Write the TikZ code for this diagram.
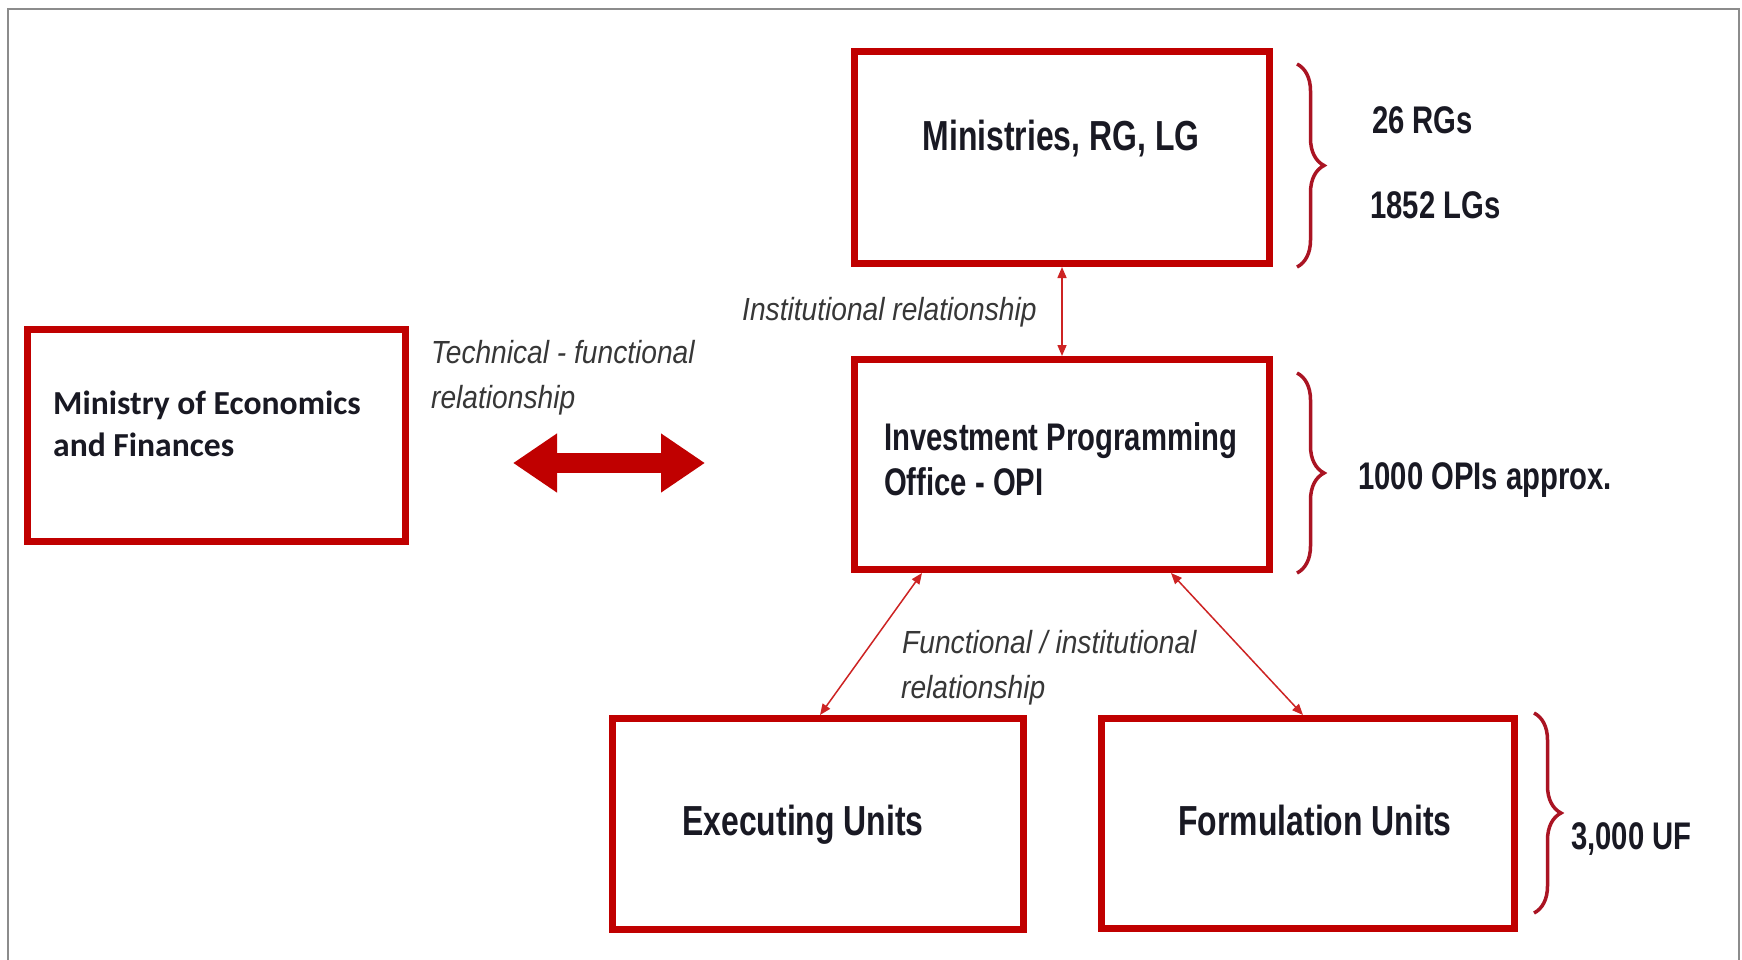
\documentclass[tikz,border=0pt]{standalone}
\usepackage{fontspec}
\setmainfont{Liberation Sans}
\newfontfamily\titlefont[FakeStretch=0.76]{Liberation Sans}
\newfontfamily\relfont[FakeStretch=0.88]{Liberation Sans}
\newfontfamily\calfont{Carlito}
\usepackage{xcolor}
\usetikzlibrary{arrows.meta,decorations.pathreplacing,calc}
\definecolor{boxred}{RGB}{192,0,0}
\definecolor{relred}{RGB}{205,35,35}
\definecolor{bracered}{RGB}{170,20,35}
\definecolor{txtdark}{RGB}{25,25,35}
\definecolor{relgray}{RGB}{55,55,55}
\definecolor{framegray}{RGB}{140,140,140}

\begin{document}
\begin{tikzpicture}[x=1pt,y=-1pt,
  box/.style={draw=boxred,line width=7pt,rectangle,inner sep=0pt},
  title/.style={inner sep=0pt,text=txtdark,font=\titlefont\bfseries\fontsize{42}{48}\selectfont},
  count/.style={inner sep=0pt,anchor=base west,text=txtdark,font=\titlefont\bfseries\fontsize{38.5}{44}\selectfont},
  reltext/.style={inner sep=0pt,anchor=base west,text=relgray,font=\relfont\itshape\fontsize{32}{36}\selectfont},
  rel/.style={draw=relred,line width=1.5pt,{Triangle[length=11pt,width=9pt]}-{Triangle[length=11pt,width=9pt]}},
  fatarrow/.style={draw=boxred,line width=20pt,{Triangle[length=44pt,width=56pt]}-{Triangle[length=44pt,width=56pt]}},
  curly/.style={draw=bracered,line width=3.5pt,decorate,decoration={brace,amplitude=27pt}}]
\useasboundingbox (0,0) rectangle (1742,959);
\fill[white] (0,0) rectangle (1742,959);
\draw[framegray,line width=2pt] (8,975) -- (8,9) -- (1739,9) -- (1739,975);

\node[box,minimum width=415pt,minimum height=212pt] (ministries) at (1062,157.5) {};
\node[box,minimum width=415pt,minimum height=210pt] (opi) at (1062,464.5) {};
\node[box,minimum width=378pt,minimum height=212pt] (mef) at (216.5,435.5) {};
\node[box,minimum width=411pt,minimum height=211pt] (exec) at (818,824) {};
\node[box,minimum width=413pt,minimum height=210pt] (form) at (1308,823.5) {};

\node[title,anchor=base] (ministriestxt) at (1061,150) {Ministries, RG, LG};
\node[title,anchor=base west,font=\titlefont\bfseries\fontsize{38.5}{43}\selectfont] (opitxt) at (884,450) {Investment Programming};
\node[title,anchor=base west,font=\titlefont\bfseries\fontsize{38.5}{43}\selectfont] (opitxtb) at (884,495) {Office - OPI};
\node[title,anchor=base] (exectxt) at (803,835) {Executing Units};
\node[title,anchor=base] (formtxt) at (1315,835) {Formulation Units};
\node[inner sep=0pt,anchor=base west,text=txtdark,font=\calfont\bfseries\fontsize{33.6}{40}\selectfont] (meftxt) at (53,414) {Ministry of Economics};
\node[inner sep=0pt,anchor=base west,text=txtdark,font=\calfont\bfseries\fontsize{33.6}{40}\selectfont] (meftxtb) at (53,456) {and Finances};

\node[count] (rgs) at (1372,133) {26 RGs};
\node[count] (lgs) at (1370,218) {1852 LGs};
\node[count] (opis) at (1358,489) {1000 OPIs approx.};
\node[count] (ufs) at (1571,849) {3,000 UF};

\draw[curly] (1297,64) -- (1297,267);
\draw[curly] (1297,373) -- (1297,573);
\draw[curly] (1534,713) -- (1534,913);

\node[reltext] (insttxt) at (742,320) {Institutional relationship};
\node[reltext] (techtxt) at (431,363) {Technical - functional};
\node[reltext] (techtxtb) at (431,408) {relationship};
\node[reltext] (functxt) at (902,653) {Functional / institutional};
\node[reltext] (functxtb) at (901,698) {relationship};

\draw[rel] (ministries.south) -- (opi.north);
\draw[rel] ([xshift=-140pt]opi.south) -- ([xshift=2pt]exec.north);
\draw[rel] ([xshift=109pt]opi.south) -- ([xshift=-5pt]form.north);

\coordinate (tfl) at (513,463);
\coordinate (tfr) at (705,463);
\draw[fatarrow] (tfl) -- (tfr);
\end{tikzpicture}
\end{document}
